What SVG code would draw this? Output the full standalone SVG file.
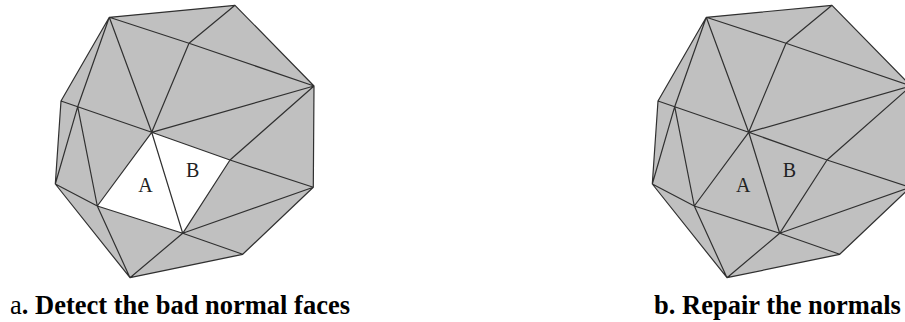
<svg xmlns="http://www.w3.org/2000/svg" xmlns:xlink="http://www.w3.org/1999/xlink" width="905" height="322" viewBox="0 0 905 322">
<style>
.m{fill:none;stroke:#303030;stroke-width:1.2;stroke-linejoin:round}
.l{font-family:"Liberation Serif",serif;font-size:20px;fill:#222}
.c{font-family:"Liberation Serif",serif;font-size:26.5px;fill:#000;font-weight:bold}
</style>
<defs>
<polygon id="hull" points="109.3,17.3 235,5.3 314,86 313.3,187.3 242.7,254.3 130,277.7 55.3,184 61,101" fill="#c0c0c0"/>
<path id="mesh" class="m" d="M109.3,17.3L235,5.3L314,86L313.3,187.3L242.7,254.3L130,277.7L55.3,184L61,101ZM109.3,17.3L189,43.3L314,86M235,5.3L189,43.3L151.7,132.3L109.3,17.3L77.7,106.7L55.3,184L97.3,206L77.7,106.7M61,101L77.7,106.7L151.7,132.3L230,160L313.3,187.3M151.7,132.3L314,86L230,160L182.7,233.3L151.7,132.3L97.3,206L182.7,233.3L313.3,187.3M182.7,233.3L242.7,254.3M182.7,233.3L130,277.7L97.3,206"/>
</defs>
<rect width="905" height="322" fill="#fff"/>
<g id="mesh-a">
<use xlink:href="#hull"/>
<polygon points="151.7,132.3 230,160 182.7,233.3 97.3,206" fill="#fff"/>
<use xlink:href="#mesh"/>
<text class="l" x="138.3" y="192">A</text>
<text class="l" x="186" y="177">B</text>
</g>
<g id="mesh-b">
<use xlink:href="#hull" x="597"/>
<use xlink:href="#mesh" x="597"/>
<text class="l" x="736" y="192">A</text>
<text class="l" x="782.7" y="177">B</text>
</g>
<text id="caption-a" class="c" x="10" y="314"><tspan font-weight="normal">a</tspan>. Detect the bad normal faces</text>
<text id="caption-b" class="c" x="654" y="314">b. Repair the normals</text>
</svg>
